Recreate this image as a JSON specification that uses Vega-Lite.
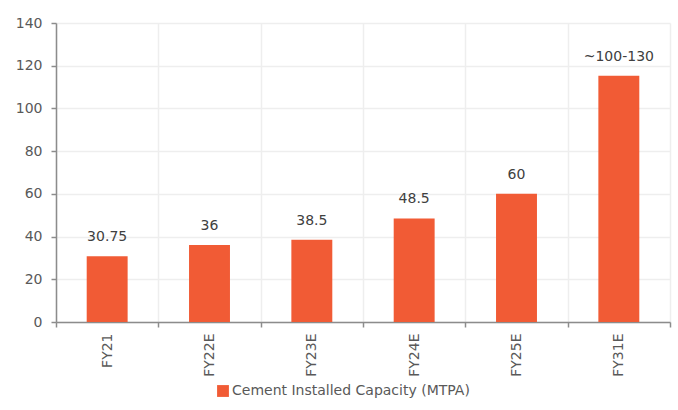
{
  "$schema": "https://vega.github.io/schema/vega-lite/v6.json",
  "width": 614,
  "height": 299,
  "autosize": "none",
  "padding": {"left": 56, "top": 23, "right": 8, "bottom": 88},
  "background": "white",
  "config": {
    "font": "DejaVu Sans",
    "view": {"stroke": null},
    "axis": {"labelFont": "DejaVu Sans", "labelFontSize": 14, "labelColor": "#595959", "gridColor": "#EEEEEE", "gridWidth": 1.5, "domainColor": "#8C8C8C", "tickColor": "#8C8C8C", "domainWidth": 1.5, "tickWidth": 1.5}
  },
  "data": {
    "values": [
      {"fy": "FY21", "value": 30.75, "label": "30.75", "series": "Cement Installed Capacity (MTPA)"},
      {"fy": "FY22E", "value": 36, "label": "36", "series": "Cement Installed Capacity (MTPA)"},
      {"fy": "FY23E", "value": 38.5, "label": "38.5", "series": "Cement Installed Capacity (MTPA)"},
      {"fy": "FY24E", "value": 48.5, "label": "48.5", "series": "Cement Installed Capacity (MTPA)"},
      {"fy": "FY25E", "value": 60, "label": "60", "series": "Cement Installed Capacity (MTPA)"},
      {"fy": "FY31E", "value": 115.3, "label": "~100-130", "series": "Cement Installed Capacity (MTPA)"}
    ]
  },
  "encoding": {
    "x": {
      "field": "fy", "type": "nominal", "sort": null,
      "scale": {"paddingInner": 0, "paddingOuter": 0},
      "axis": {"title": null, "labelAngle": -90, "labelPadding": 6, "tickBand": "extent", "grid": true, "tickSize": 5, "labelAlign": "right", "labelBaseline": "middle"}
    },
    "y": {
      "field": "value", "type": "quantitative",
      "scale": {"domain": [0, 140], "nice": false},
      "axis": {"title": null, "values": [0, 20, 40, 60, 80, 100, 120, 140], "tickSize": 5, "labelPadding": 9, "grid": true}
    }
  },
  "layer": [
    {
      "mark": {"type": "bar", "width": {"band": 0.4}},
      "encoding": {
        "color": {
          "field": "series", "type": "nominal",
          "scale": {"range": ["#F15B35"]},
          "legend": {"title": null, "orient": "none", "legendX": 160, "legendY": 361, "symbolType": "square", "symbolSize": 140, "symbolStrokeWidth": 0, "labelFontSize": 14, "labelColor": "#595959", "labelFont": "DejaVu Sans", "labelLimit": 400, "symbolOffset": 0, "labelOffset": 2}
        }
      }
    },
    {
      "mark": {"type": "text", "baseline": "bottom", "dy": -12, "fontSize": 14, "color": "#404040", "font": "DejaVu Sans"},
      "encoding": {"text": {"field": "label"}}
    }
  ]
}
